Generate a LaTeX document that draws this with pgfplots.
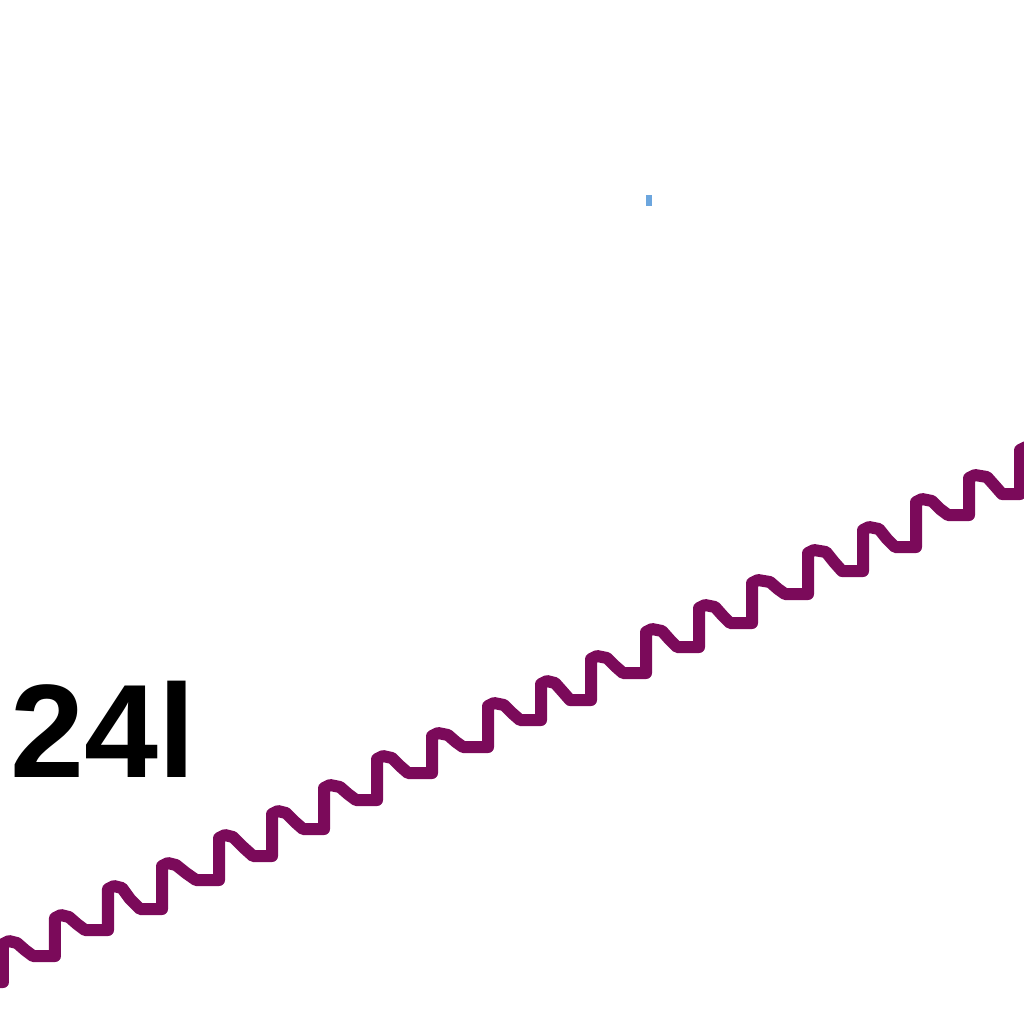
\documentclass[border=0pt]{standalone}
\usepackage{fontspec}
\setmainfont{Liberation Sans}
\usepackage{pgfplots}
\pgfplotsset{compat=1.18}
\definecolor{wavepurple}{RGB}{123,10,90}
\definecolor{dotblue}{RGB}{108,166,222}
\begin{document}
\begin{tikzpicture}
\begin{axis}[
  width=512pt, height=512pt, scale only axis,
  xmin=0, xmax=1024, ymin=0, ymax=1024, y dir=reverse,
  hide axis, clip=true,
]
\addplot[wavepurple, line width=6pt, line join=round] coordinates {
(-20,982) (3,982) (3,944) (9,941) (17,943) (25,950) (33,956) (52,956)
(55,956) (55,918) (61,915) (69,917) (77,924) (85,930) (105,930)
(108,930) (108,889) (114,886) (122,888) (130,899) (140,909) (159,909)
(162,909) (162,866) (168,863) (176,865) (186,873) (196,880) (216,880)
(219,880) (219,838) (225,835) (233,837) (243,847) (253,856) (269,856)
(272,856) (272,814) (278,811) (286,813) (295,822) (303,829) (321,829)
(324,829) (324,788) (330,785) (340,787) (348,794) (356,800) (374,800)
(377,800) (377,759) (383,756) (392,758) (400,766) (408,773) (429,773)
(432,773) (432,736) (438,733) (448,735) (456,742) (463,747) (485,747)
(488,747) (488,706) (494,703) (504,705) (512,713) (520,720) (538,720)
(541,720) (541,684) (547,681) (555,683) (563,692) (570,700) (588,700)
(591,700) (591,659) (597,656) (607,658) (615,666) (623,673) (643,673)
(646,673) (646,632) (652,629) (662,631) (670,640) (677,647) (696,647)
(699,647) (699,608) (705,605) (715,607) (723,616) (730,623) (749,623)
(752,623) (752,583) (758,580) (770,582) (778,589) (785,594) (805,594)
(808,594) (808,553) (814,550) (826,552) (834,562) (842,571) (860,571)
(863,571) (863,530) (869,527) (879,529) (887,539) (895,547) (913,547)
(916,547) (916,502) (922,499) (932,501) (940,509) (948,515) (966,515)
(969,515) (969,478) (975,475) (987,477) (995,486) (1002,494) (1017,494)
(1020,494) (1020,450) (1026,447) (1040,450)
};
\addplot[dotblue, line width=3pt] coordinates {(649,195) (649,206)};
\node[anchor=base west, inner sep=0pt, font=\bfseries\fontsize{66.5}{70}\selectfont] at (axis cs:10,777) {24l};
\end{axis}
\pgfresetboundingbox
\path[use as bounding box] (0,0) rectangle (512pt,512pt);
\end{tikzpicture}
\end{document}
